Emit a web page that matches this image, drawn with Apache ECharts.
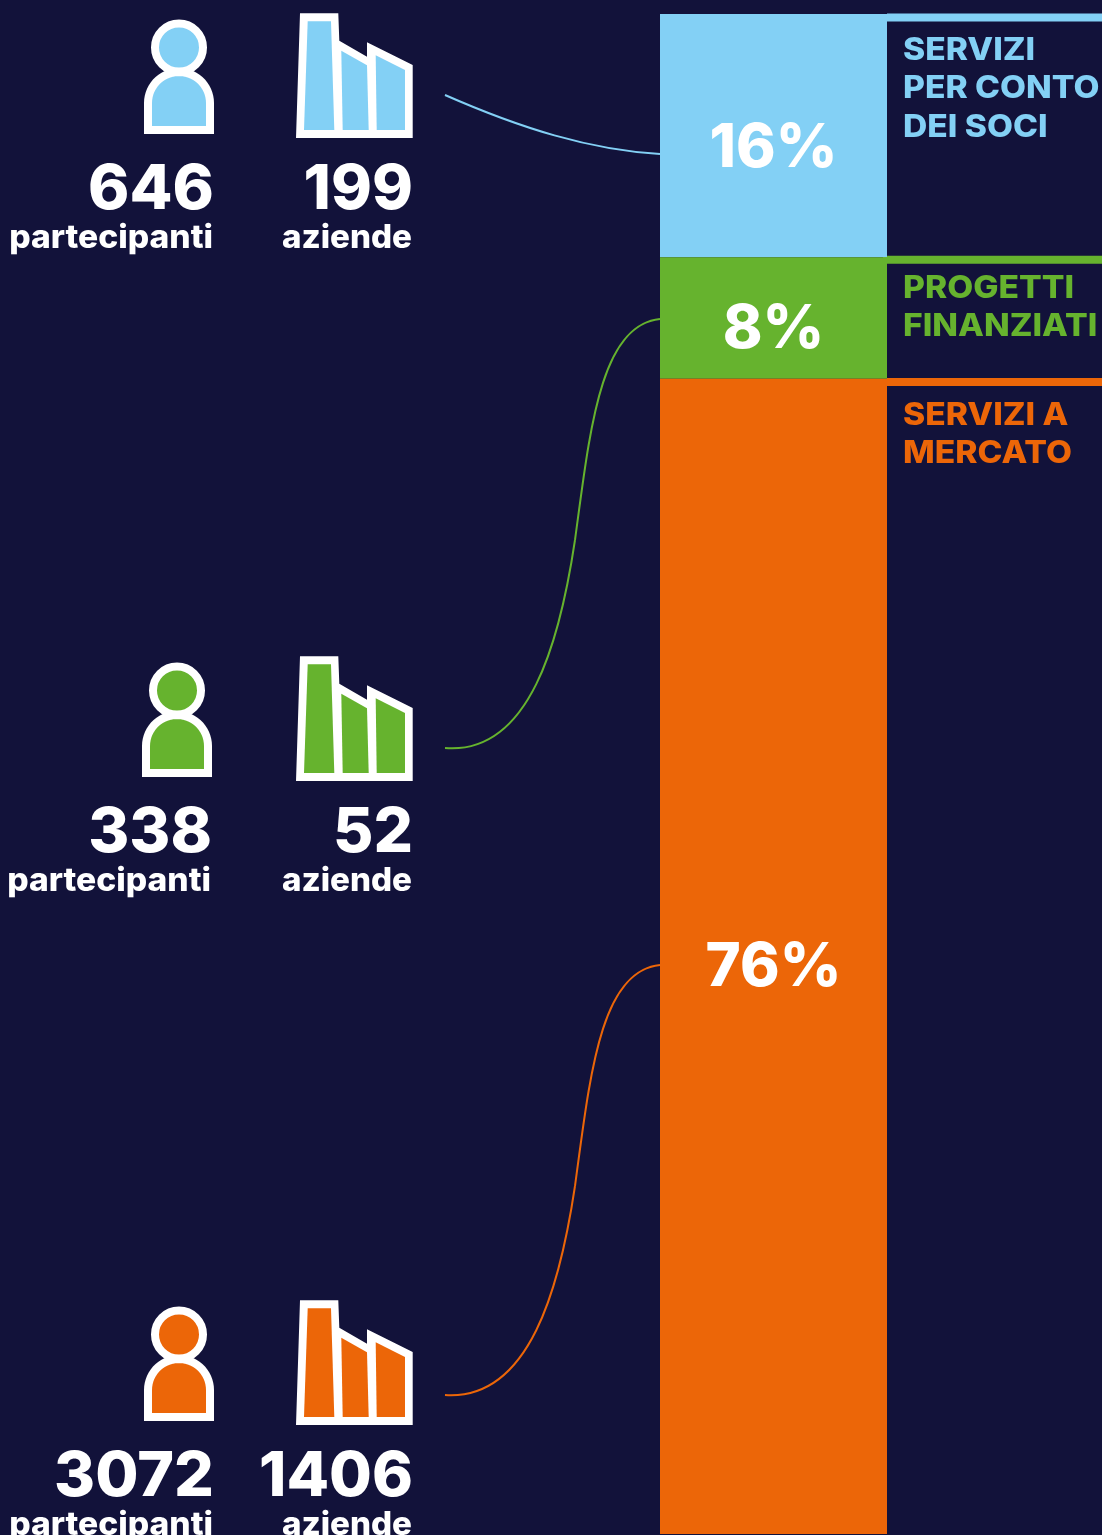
<!DOCTYPE html>
<html>
<head>
<meta charset="utf-8">
<style>
html,body{margin:0;padding:0;background:#12123a;overflow:hidden}
#chart{width:1102px;height:1535px}
</style>
<script src="https://cdn.jsdelivr.net/npm/echarts@6/dist/echarts.min.js"></script>
</head>
<body>
<div id="chart"></div>
<script>
// data
var categories = ['SERVIZI\nPER CONTO\nDEI SOCI', 'PROGETTI\nFINANZIATI', 'SERVIZI A\nMERCATO'];
var shares = [16, 8, 76];
var partecipanti = [646, 338, 3072];
var aziende = [199, 52, 1406];

// styles and layout
var colors = ['#83D0F5', '#66B32E', '#EC6608'];
var bg = '#12123a';
var font = 'Inter';
var rowDy = [0, 643, 1287];
var personDx = [0, -2, 0];
var ruleY = [13.5, 255.7, 378];
var ruleX = [887, 883, 887];
var textY = [31, 269, 396];
var labelDy = [13, 12, 12];

var chart = echarts.init(document.getElementById('chart'));
var graphic = [];

function person(dx, dy, color) {
    var pts = [[148 + dx, 130 + dy], [148 + dx, 103 + dy]];
    for (var a = 180; a <= 360; a += 6) {
        pts.push([179 + dx + 31 * Math.cos(a * Math.PI / 180), 103 + dy + 31 * Math.sin(a * Math.PI / 180)]);
    }
    pts.push([210 + dx, 130 + dy]);
    graphic.push({type: 'polygon', shape: {points: pts}, style: {fill: color, stroke: '#fff', lineWidth: 8, lineJoin: 'miter'}});
    graphic.push({type: 'circle', shape: {cx: 179 + dx, cy: 47.5 + dy, r: 24}, style: {fill: color, stroke: '#fff', lineWidth: 8}});
}

function factory(dy, color) {
    function shift(list) {
        return list.map(function (p) { return [p[0], p[1] + dy]; });
    }
    graphic.push({type: 'polygon', shape: {points: shift([[300, 13.3], [338.3, 13.3], [339.3, 40.7], [367, 56.7], [367, 42.3], [412.7, 65], [412.7, 138], [296, 138]])}, style: {fill: '#fff'}});
    graphic.push({type: 'polygon', shape: {points: shift([[307.7, 21.3], [331, 21.3], [334.3, 130], [304, 130]])}, style: {fill: color}});
    graphic.push({type: 'polygon', shape: {points: shift([[341.3, 50.7], [367, 65.3], [368.7, 130], [342.7, 130]])}, style: {fill: color}});
    graphic.push({type: 'polygon', shape: {points: shift([[375.7, 55.3], [405, 70], [405, 130], [376.7, 130]])}, style: {fill: color}});
}

function text(str, x, y, size, weight, sx) {
    graphic.push({type: 'text', x: x, y: y, scaleX: sx, style: {text: String(str), x: 0, y: 0, fill: '#fff', align: 'right', verticalAlign: 'middle', font: weight + ' ' + size + 'px ' + font}});
}

function curve(c, color) {
    graphic.push({type: 'bezierCurve', shape: {x1: c[0], y1: c[1], cpx1: c[2], cpy1: c[3], cpx2: c[4], cpy2: c[5], x2: c[6], y2: c[7]}, style: {fill: 'none', stroke: color, lineWidth: 2}});
}

shares.forEach(function (v, i) {
    var dy = rowDy[i], color = colors[i];
    person(personDx[i], dy, color);
    factory(dy, color);
    text(partecipanti[i], 214 + personDx[i], 190 + dy, 62, 800, 1.01);
    text(aziende[i], 413, 190 + dy, 62, 800, 1);
    text('partecipanti', 213 + personDx[i], 238 + dy, 32, 800, 1.05);
    text('aziende', 412, 238 + dy, 32, 800, 1.035);
    // rule and caption beside the bar
    graphic.push({type: 'rect', shape: {x: ruleX[i], y: ruleY[i], width: 1102 - ruleX[i], height: 8}, style: {fill: color}});
    graphic.push({type: 'text', x: 903, y: textY[i], scaleX: 1.085, style: {text: categories[i], x: 0, y: 0, fill: color, align: 'left', verticalAlign: 'top', lineHeight: 38.5, font: '800 31px ' + font}});
});

// connectors
curve([445, 95, 520, 128, 590, 150, 660, 154], colors[0]);
curve([445, 748, 530, 755, 560, 640, 575, 540], colors[1]);
curve([575, 540, 590, 430, 600, 325, 660, 319], colors[1]);
curve([445, 1395, 530, 1401, 560, 1286, 575, 1186], colors[2]);
curve([575, 1186, 590, 1076, 600, 971, 660, 965], colors[2]);

var option = {
    backgroundColor: bg,
    animation: false,
    grid: {left: 660, top: 14, width: 227, height: 1520},
    xAxis: {type: 'category', data: ['quota'], show: false},
    yAxis: {type: 'value', min: 0, max: 100, inverse: true, show: false},
    series: shares.map(function (v, i) {
        return {
            name: categories[i],
            type: 'bar',
            stack: 'quota',
            barWidth: '100%',
            data: [v],
            itemStyle: {color: colors[i]},
            label: {show: true, position: 'inside', offset: [0, labelDy[i]], formatter: '{c}%', color: '#fff', fontFamily: font, fontWeight: 800, fontSize: 60}
        };
    }),
    graphic: graphic
};
chart.setOption(option);
</script>
</body>
</html>
